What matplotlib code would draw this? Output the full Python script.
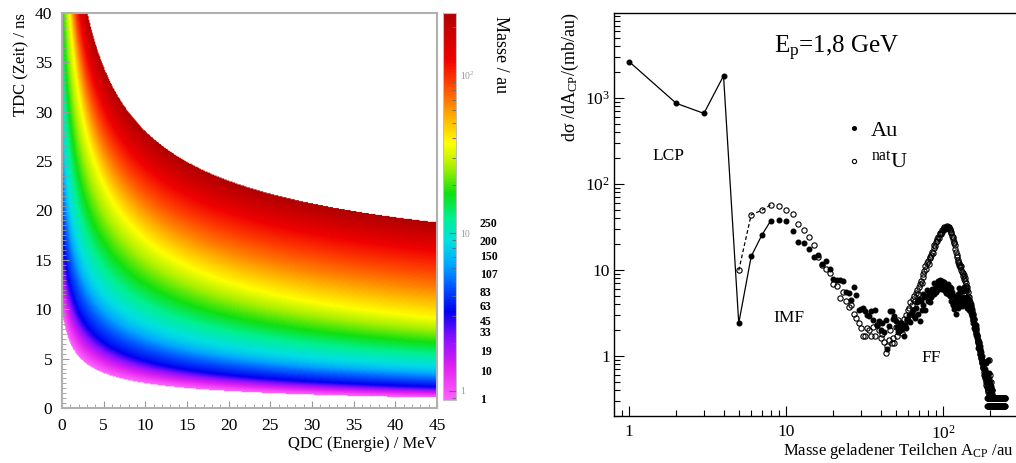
import numpy as np
import matplotlib
matplotlib.use("Agg")
import matplotlib.pyplot as plt
from matplotlib.colors import LinearSegmentedColormap, LogNorm
from matplotlib.ticker import (FixedLocator, FuncFormatter, MultipleLocator,
                               LogLocator, NullFormatter)

plt.rcParams['font.family'] = ['Liberation Serif', 'DejaVu Serif']
plt.rcParams['mathtext.fontset'] = 'custom'
plt.rcParams['mathtext.rm'] = 'Liberation Serif'
plt.rcParams['mathtext.it'] = 'Liberation Serif:italic'
plt.rcParams['mathtext.bf'] = 'Liberation Serif:bold'

# ---------------------------------------------------------------------------
# Left panel: TDC / QDC map, mass bands
# (time of each band at 5 MeV and at 45 MeV)
band_mass = [0.84, 3.2, 8, 18, 38, 65, 120, 250]          # au
band_t45 = [1.0, 2.1, 3.9, 6.6, 9.2, 12.0, 15.7, 18.8]     # ns at 45 MeV
band_t5 = [3.5, 6.6, 10.9, 16.8, 22.8, 26.1, 30.2, 34.5]   # ns at 5 MeV
e_offset = 0.9                                             # MeV

cbar_marks = ['250', '200', '150', '107', '83', '63', '45', '33', '19', '10', '1']

# ---------------------------------------------------------------------------
# Right panel: d(sigma)/dA for A = 1, 2, 3 ... (Au) and A = 5, 6, ... (natU)
au_sigma = [
    2670, 871, 665, 1820, 2.4, 14.4, 25.3, 37.6, 38, 37.6,            # 1-10
    28.6, 21.4, 20.6, 17.8, 14.3, 14.9, 11.8, 12.9, 10.3, 7.9,        # 11-20
    7.7, 7.6, 7.4, 5.6, 5.4, 4.5, 6.4, 5.1, 3.4, 3.5,                 # 21-30
    3.6, 3.3, 3.0, 2.9, 3.3, 2.6, 3.4, 2.3, 2.55, 2.0,                # 31-40
    2.45, 1.9, 2.6, 1.2, 2.25, 3.3, 3.3, 2.7, 2.9, 2.55,              # 41-50
    2.2, 1.9, 2.45, 2.0, 2.3, 1.7, 2.3, 2.1, 2.7, 2.6,                # 51-60
    3.0, 2.5, 3.2, 3.4, 2.9, 2.8, 3.6, 4.3, 3.1, 4.6,                 # 61-70
    2.55, 4.4, 3.4, 5.2, 3.9, 4.8, 3.4, 5.0, 5.8, 4.4,                # 71-80
    5.3, 4.3, 5.6, 4.9, 6.0, 5.3, 5.2, 7.0, 6.1, 5.6,                 # 81-90
    6.6, 5.8, 7.4, 6.4, 7.6, 6.8, 6.0, 7.4, 6.6, 6.2,                 # 91-100
    7.2, 5.9, 6.9, 5.4, 5.6, 6.5, 6.8, 5.2, 6.0, 5.0,                 # 101-110
    6.4, 4.4, 6.2, 5.5, 3.9, 4.0, 5.0, 3.5, 4.4, 3.7,                 # 111-120
    3.1, 4.8, 3.8, 3.6, 5.2, 4.3, 6.2, 4.6, 5.5, 4.1,                 # 121-130
    4.9, 3.8, 5.7, 4.9, 4.0, 6.4, 4.3, 4.7, 3.9, 5.9,                 # 131-140
    4.5, 3.6, 4.8, 4.3, 3.8, 4.5, 3.4, 3.9, 3.6, 4.0,                 # 141-150
    3.2, 3.5, 2.9, 3.0, 2.6, 2.4, 2.7, 2.1, 2.2, 2.0,                 # 151-160
    2.3, 1.75, 1.85, 1.6, 1.7, 1.4, 1.5, 1.25, 1.45, 1.3,             # 161-170
    1.15, 1.3, 1.05, 1.1, 0.95, 1.0, 0.87, 0.9, 0.8, 0.75,            # 171-180
    0.82, 0.7, 0.85, 0.65, 0.7, 0.6, 0.65, 0.55, 0.82, 0.5,           # 181-190
    0.6, 0.48, 0.9, 0.45, 0.55, 0.42, 0.63, 0.4, 0.5, 0.38,           # 191-200
    0.45, 0.36, 0.42, 0.34, 0.4,                                      # 201-205
]
au_floor_start = 190
au_floor = [
    0.32, 0.26, 0.26, 0.32, 0.26, 0.32, 0.26, 0.26, 0.26, 0.32,
    0.26, 0.26, 0.32, 0.26, 0.26, 0.26, 0.32, 0.26, 0.26, 0.26,
    0.26, 0.32, 0.26, 0.26, 0.26, 0.32, 0.26, 0.26, 0.26, 0.26,
    0.32, 0.26, 0.26, 0.32, 0.26, 0.26, 0.26, 0.26, 0.32, 0.26,
    0.26, 0.26, 0.32, 0.26, 0.26, 0.26, 0.26, 0.32, 0.26, 0.26,
    0.26, 0.32, 0.26, 0.26, 0.26, 0.26, 0.32, 0.26, 0.26,
]

u_start = 5
u_sigma = [
    9.9, 44, 49.5, 57.5, 55.5, 49.3,                                  # 5-10
    44.8, 34.7, 29.5, 24.2, 19.3, 14.0, 11.5, 10.4, 9.2, 6.9,         # 11-20
    6.6, 4.7, 5.5, 4.4, 3.7, 3.9, 3.1, 2.75, 2.4, 2.1,                # 21-30
    1.7, 1.7, 2.1, 2.0, 1.7, 2.2, 1.7, 2.3, 2.0, 1.6,                 # 31-40
    1.8, 1.45, 1.08, 1.3, 1.54, 2.0, 1.4, 1.6, 1.4, 2.2,              # 41-50
    1.7, 2.6, 2.0, 2.4, 1.85, 2.7, 2.2, 3.0, 2.6, 3.4,                # 51-60
    3.6, 4.3, 3.9, 4.6, 5.0, 4.4, 5.4, 5.9, 5.2, 6.4,                 # 61-70
    6.8, 7.5, 7.0, 8.9, 8.3, 9.8, 11.0, 10.2, 12.0, 12.6,             # 71-80
    11.8, 13.7, 14.2, 15.0, 16.3, 15.6, 18.0, 19.7, 18.8, 21.0,       # 81-90
    21.5, 23.0, 24.5, 23.8, 26.0, 27.0, 26.2, 28.0, 29.0, 29.5,       # 91-100
    30.5, 31.5, 30.0, 32.0, 31.0, 32.5, 31.5, 30.5, 32.0, 30.0,       # 101-110
    29.0, 27.0, 27.5, 25.0, 24.0, 23.0, 21.0, 20.5, 19.7, 17.5,       # 111-120
    16.0, 15.0, 14.0, 13.0, 12.5, 12.0, 11.5, 11.0, 10.8, 11.2,       # 121-130
    10.0, 9.6, 9.3, 8.5, 8.8, 7.8, 8.0, 7.4, 7.0, 6.6,                # 131-140
    6.2, 6.4, 5.9, 5.5, 5.0, 4.8, 4.5, 4.3, 3.9, 3.6,                 # 141-150
    3.8, 3.3, 3.0, 3.1, 2.8, 2.6, 2.7, 2.4, 2.2, 2.3,                 # 151-160
    2.0, 2.1, 1.85, 1.7, 1.75, 1.5, 1.45, 1.55, 1.3, 1.4,             # 161-170
    1.2, 1.15, 1.05, 0.95, 1.0, 0.9, 0.82, 0.86, 0.75, 0.72,          # 171-180
    0.65, 0.7, 0.6, 0.63, 0.55, 0.58, 0.5, 0.52, 0.46, 0.43,          # 181-190
    0.45, 0.4, 0.38, 0.4, 0.35, 0.42, 0.9, 0.38, 0.6, 0.45,           # 191-200
    0.5, 0.4, 0.42, 0.36, 0.4, 0.34,                                  # 201-206
]
u_floor_start = 192
u_floor = [
    0.32, 0.32, 0.26, 0.32, 0.32, 0.32, 0.26, 0.32, 0.32, 0.26,
    0.32, 0.32, 0.32, 0.26, 0.32, 0.32, 0.26, 0.32, 0.32, 0.32,
    0.26, 0.32, 0.32, 0.32, 0.26, 0.32, 0.32, 0.26, 0.32, 0.32,
    0.32, 0.26, 0.32, 0.32, 0.32, 0.26, 0.32, 0.32, 0.26, 0.32,
    0.32, 0.32, 0.26, 0.32, 0.32, 0.32, 0.26, 0.32, 0.32, 0.26,
    0.32, 0.32, 0.32, 0.26, 0.32, 0.32, 0.32,
]
n_joined = 8   # points joined by lines (A <= 8)

# ---------------------------------------------------------------------------
W, H = 1016, 463
fig = plt.figure(figsize=(W / 100, H / 100), dpi=100)


def box(x0, y0, x1, y1):
    # pixel box (left, top, right, bottom) -> figure fraction
    return [x0 / W, 1 - y1 / H, (x1 - x0) / W, (y1 - y0) / H]


# ---------------- left panel ----------------
ax1 = fig.add_axes(box(62, 13, 437, 408))
cax = fig.add_axes(box(443, 13, 456, 400))

cmap_nodes = [(0.0, '#ff60ff'), (0.085, '#e020f0'), (0.158, '#8a10ff'),
              (0.227, '#0000f0'), (0.289, '#0050ff'), (0.35, '#00a8ff'),
              (0.411, '#00e0e0'), (0.472, '#00f090'), (0.534, '#10e010'),
              (0.603, '#a8f000'), (0.664, '#ffff00'), (0.738, '#ffa800'),
              (0.82, '#ff4000'), (0.881, '#f00000'), (1.0, '#b00000')]
cmap = LinearSegmentedColormap.from_list('rootlike', cmap_nodes)
cmap.set_bad('white')
norm = LogNorm(vmin=0.877, vmax=247)


def g(e):
    return 1.0 / np.sqrt(e + e_offset)


t45 = np.array(band_t45)
t5 = np.array(band_t5)
c_band = (t5 - t45) / (g(5.0) - g(45.0))
a_band = t45 - c_band * g(45.0)
log_mass = np.log10(band_mass)

e_grid = np.linspace(0, 45, 451)
t_grid = np.linspace(0, 40, 401)
logm = np.full((t_grid.size, e_grid.size), np.nan)
for j, e in enumerate(e_grid):
    t_lev = a_band + c_band * g(e)
    logm[:, j] = np.interp(t_grid, t_lev, log_mass, left=np.nan, right=np.nan)
mass_map = np.ma.masked_invalid(10 ** logm)

im = ax1.imshow(mass_map, extent=[0, 45, 0, 40], origin='lower', aspect='auto',
                cmap=cmap, norm=norm, interpolation='bilinear')
ax1.set_xlim(0, 45)
ax1.set_ylim(0, 40)
ax1.xaxis.set_major_locator(MultipleLocator(5))
ax1.xaxis.set_minor_locator(MultipleLocator(1))
ax1.yaxis.set_major_locator(MultipleLocator(5))
ax1.yaxis.set_minor_locator(MultipleLocator(0.5))
ax1.tick_params(which='both', direction='in', color='#999999', labelsize=12.5)
ax1.tick_params(which='major', length=5, width=0.8)
ax1.tick_params(which='minor', length=3, width=0.6)
ax1.tick_params(axis='x', pad=7)
ax1.tick_params(axis='y', pad=7)
for sp in ax1.spines.values():
    sp.set_color('#b0b0b0')
    sp.set_linewidth(1.5)
ax1.set_xlabel('QDC (Energie) / MeV', fontsize=12, loc='right', labelpad=2)
ax1.set_ylabel('TDC (Zeit) / ns', fontsize=12, loc='top', labelpad=4)

cb = fig.colorbar(im, cax=cax)
cb.outline.set_edgecolor('#c0c0c0')
cax.yaxis.set_major_locator(FixedLocator([1, 10, 100]))
cax.yaxis.set_major_formatter(FuncFormatter(
    lambda v, p: {1: '1', 10: '10', 100: r'$\mathregular{10^2}$'}.get(int(round(v)), '')))
cax.yaxis.set_minor_locator(LogLocator(subs=np.arange(2, 10)))
cax.yaxis.set_minor_formatter(NullFormatter())
cax.tick_params(which='both', direction='in', color='#666666', labelcolor='#999999',
                labelsize=7, pad=3)
cax.tick_params(which='major', length=5)
cax.tick_params(which='minor', length=3)

cbar_mark_pos = [0.455, 0.408, 0.370, 0.323, 0.276, 0.240, 0.202, 0.173,
                 0.124, 0.072, 0.0]
cb_y0, cb_h = 1 - 400 / H, 387 / H
for lab, fy in zip(cbar_marks, cbar_mark_pos):
    fig.text(480 / W, cb_y0 + fy * cb_h, lab, fontsize=8.5, fontweight='bold',
             ha='left', va='center')
fig.text(501 / W, 1 - 16 / H, 'Masse / au', rotation=270, fontsize=13,
         ha='center', va='top')

# ---------------- right panel ----------------
ax2 = fig.add_axes(box(614, 13, 1020, 416))
ax2.set_xscale('log')
ax2.set_yscale('log')

au_A = np.arange(1, 1 + len(au_sigma))
u_A = np.arange(u_start, u_start + len(u_sigma))
au_fA = np.arange(au_floor_start, au_floor_start + len(au_floor))
u_fA = np.arange(u_floor_start, u_floor_start + len(u_floor))

ax2.plot(au_A[:n_joined], au_sigma[:n_joined], color='black', lw=0.9)
ax2.plot(u_A[:n_joined - u_start + 1], u_sigma[:n_joined - u_start + 1],
         color='black', lw=0.9, ls=(0, (3, 2)))
au_pts, = ax2.plot(np.r_[au_A, au_fA], np.r_[au_sigma, au_floor], 'o', ms=3.3,
                   color='black', ls='none')
u_pts, = ax2.plot(np.r_[u_A, u_fA], np.r_[u_sigma, u_floor], 'o', ms=3.8,
                  mfc='none', mec='black', mew=0.8, ls='none')

ax2.set_xlim(0.8027, 309)
ax2.set_ylim(0.2, 9800)
ax2.xaxis.set_major_locator(FixedLocator([1, 10, 100]))
ax2.yaxis.set_major_locator(FixedLocator([1, 10, 100, 1000]))
pow_fmt = FuncFormatter(lambda v, p: {1: '1', 10: '10', 100: r'$\mathregular{10^2}$',
                                      1000: r'$\mathregular{10^3}$'}.get(int(round(v)), ''))
ax2.xaxis.set_major_formatter(pow_fmt)
ax2.yaxis.set_major_formatter(pow_fmt)
ax2.xaxis.set_minor_locator(LogLocator(subs=np.arange(2, 10), numticks=20))
ax2.yaxis.set_minor_locator(LogLocator(subs=np.arange(2, 10), numticks=20))
ax2.xaxis.set_minor_formatter(NullFormatter())
ax2.yaxis.set_minor_formatter(NullFormatter())
ax2.tick_params(which='both', direction='in', labelsize=12.5, width=0.8)
ax2.tick_params(which='major', length=7)
ax2.tick_params(which='minor', length=4)
ax2.tick_params(axis='x', pad=6)
ax2.tick_params(axis='y', pad=3)
ax2.spines['right'].set_visible(False)
for sp in ('left', 'bottom', 'top'):
    ax2.spines[sp].set_linewidth(1.0)

ax2.set_xlabel(r'Masse geladener Teilchen A$_{\mathregular{CP}}$ /au', fontsize=12,
               loc='left')
ax2.xaxis.set_label_coords((783 - 614) / 406, -(441 - 416) / 403)
ax2.set_ylabel(r'd$\mathregular{\sigma}$ /dA$_{\mathregular{CP}}$/(mb/au)', fontsize=13,
               loc='top', labelpad=3)

ax2.text(0.395, 0.90, r'E$_{\mathregular{p}}$=1,8 GeV', fontsize=18,
         transform=ax2.transAxes, ha='left', va='baseline')
ax2.text(0.135, 0.645, 'LCP', fontsize=12.5, transform=ax2.transAxes,
         ha='center', va='center')
ax2.text(0.431, 0.243, 'IMF', fontsize=12.5, transform=ax2.transAxes,
         ha='center', va='center')
ax2.text(0.782, 0.144, 'FF', fontsize=12.5, transform=ax2.transAxes,
         ha='center', va='center')

leg = ax2.legend([au_pts, u_pts], ['Au', r'$^{\mathregular{nat}}$U'],
                 loc='upper left', bbox_to_anchor=(0.548, 0.762), frameon=False,
                 fontsize=16, handlelength=0.6, handletextpad=0.45,
                 labelspacing=0.5, borderpad=0, markerscale=0.8)

fig.savefig('out.png', dpi=100)
